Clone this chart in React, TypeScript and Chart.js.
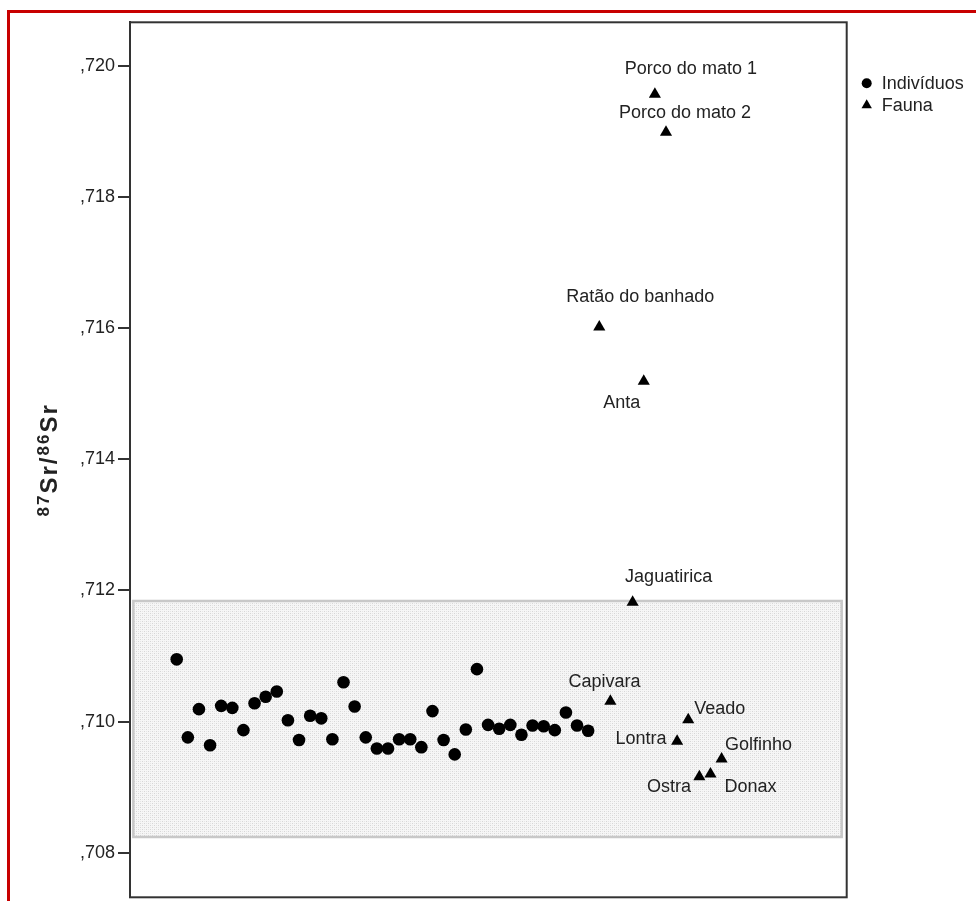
import React, { useEffect, useRef } from 'react';
import { Chart, registerables } from 'chart.js';

Chart.register(...registerables);

// ---- Data ----
const INDIVIDUOS_X = [
  1, 2, 3, 4, 5, 6, 7, 8, 9, 10, 11, 12, 13, 14, 15, 16, 17, 18, 19,
  20, 21, 22, 23, 24, 25, 26, 27, 28, 29, 30, 31, 32, 33, 34, 35, 36, 37, 38,
];
const INDIVIDUOS_Y = [
  0.71095, 0.70976, 0.71019, 0.70964, 0.71024, 0.71021, 0.70987, 0.71028, 0.71038, 0.71046,
  0.71002, 0.70972, 0.71009, 0.71005, 0.70973, 0.7106, 0.71023, 0.70976, 0.70959, 0.70959,
  0.70973, 0.70973, 0.70961, 0.71016, 0.70972, 0.7095, 0.70988, 0.7108, 0.70995, 0.70989,
  0.70995, 0.7098, 0.70994, 0.70993, 0.70987, 0.71014, 0.70994, 0.70986,
];
const FAUNA_NAMES = [
  'Ratão do banhado', 'Capivara', 'Jaguatirica', 'Anta', 'Porco do mato 1', 'Porco do mato 2',
  'Lontra', 'Veado', 'Ostra', 'Donax', 'Golfinho',
];
const FAUNA_X = [39, 40, 42, 43, 44, 45, 46, 47, 48, 49, 50];
const FAUNA_Y = [
  0.71602, 0.71031, 0.71182, 0.71519, 0.71957, 0.71899, 0.7097, 0.71003, 0.70916, 0.7092, 0.70943,
];
const SERIES_LABELS = ['Indivíduos', 'Fauna'];
const Y_TICKS = [0.708, 0.71, 0.712, 0.714, 0.716, 0.718, 0.72];
const Y_RANGE = [0.70732, 0.720667];
const X_RANGE = [-3.2, 61.25];
const BOX_X = [-2.9, 60.8];
const BOX_Y = [0.70824, 0.71184];
const Y_TITLE_PARTS = [
  { text: '87', sup: true },
  { text: 'Sr/', sup: false },
  { text: '86', sup: true },
  { text: 'Sr', sup: false },
];

// ---- Styles (label placement relative to each point) ----
const LABEL_STYLE: Record<string, { align: CanvasTextAlign; dx: number; dy: number }> = {
  'Ratão do banhado': { align: 'center', dx: 41, dy: -30 },
  Capivara: { align: 'center', dx: -6, dy: -19 },
  Jaguatirica: { align: 'center', dx: 36, dy: -25 },
  Anta: { align: 'center', dx: -22, dy: 22 },
  'Porco do mato 1': { align: 'center', dx: 36, dy: -25 },
  'Porco do mato 2': { align: 'center', dx: 19, dy: -19 },
  Lontra: { align: 'right', dx: -10.5, dy: -2 },
  Veado: { align: 'left', dx: 6, dy: -10.5 },
  Ostra: { align: 'right', dx: -8.3, dy: 10 },
  Donax: { align: 'left', dx: 14, dy: 12.7 },
  Golfinho: { align: 'left', dx: 3.3, dy: -13.5 },
};

const FONT = "'Liberation Sans', Arial, sans-serif";
const TEXT_COLOR = '#222';

function makePattern(ctx: CanvasRenderingContext2D) {
  const c = document.createElement('canvas');
  c.width = 4;
  c.height = 4;
  const p = c.getContext('2d')!;
  p.fillStyle = '#f6f6f6';
  p.fillRect(0, 0, 4, 4);
  p.fillStyle = '#d6d6d6';
  p.fillRect(0, 0, 1, 1);
  p.fillRect(2, 2, 1, 1);
  p.fillStyle = '#e6e6e6';
  p.fillRect(2, 0, 1, 1);
  p.fillRect(0, 2, 1, 1);
  return ctx.createPattern(c, 'repeat')!;
}

const decorPlugin = {
  id: 'decor',
  beforeDatasetsDraw(chart: any) {
    const { ctx, scales } = chart;
    const x = scales.x;
    const y = scales.y;
    const l = x.getPixelForValue(BOX_X[0]);
    const r = x.getPixelForValue(BOX_X[1]);
    const t = y.getPixelForValue(BOX_Y[1]);
    const b = y.getPixelForValue(BOX_Y[0]);
    ctx.save();
    ctx.fillStyle = makePattern(ctx);
    ctx.fillRect(l, t, r - l, b - t);
    ctx.strokeStyle = '#c8c8c8';
    ctx.lineWidth = 2.5;
    ctx.strokeRect(l, t, r - l, b - t);
    ctx.restore();
  },
  afterDatasetsDraw(chart: any) {
    const { ctx, scales, chartArea } = chart;
    const x = scales.x;
    const y = scales.y;
    ctx.save();
    // point labels
    ctx.font = `18px ${FONT}`;
    ctx.fillStyle = TEXT_COLOR;
    ctx.textBaseline = 'middle';
    FAUNA_NAMES.forEach((name, i) => {
      const st = LABEL_STYLE[name];
      const px = x.getPixelForValue(FAUNA_X[i]);
      const py = y.getPixelForValue(FAUNA_Y[i]);
      ctx.textAlign = st.align;
      ctx.fillText(name, px + st.dx, py + st.dy);
    });
    // frame
    ctx.strokeStyle = '#333';
    ctx.lineWidth = 2;
    ctx.strokeRect(chartArea.left, chartArea.top, chartArea.right - chartArea.left, chartArea.bottom - chartArea.top);
    // legend
    const lx = chartArea.right + 20;
    const ly = chartArea.top + 61;
    chart.data.datasets.forEach((ds: any, i: number) => {
      const cy = ly + i * 22;
      ctx.fillStyle = '#000';
      ctx.beginPath();
      if (ds.pointStyle === 'triangle') {
        const rr = 6;
        ctx.moveTo(lx, cy - rr);
        ctx.lineTo(lx + rr * 0.866, cy + rr / 2);
        ctx.lineTo(lx - rr * 0.866, cy + rr / 2);
        ctx.closePath();
      } else {
        ctx.arc(lx, cy, 5, 0, Math.PI * 2);
      }
      ctx.fill();
      ctx.fillStyle = TEXT_COLOR;
      ctx.textAlign = 'left';
      ctx.textBaseline = 'middle';
      ctx.font = `18px ${FONT}`;
      ctx.fillText(ds.label, lx + 15, cy + 1);
    });
    ctx.restore();

    // y title
    ctx.save();
    const mainFont = `bold 24px ${FONT}`;
    const supFont = `bold 17px ${FONT}`;
    (ctx as any).letterSpacing = '2px';
    let total = 0;
    const widths = Y_TITLE_PARTS.map((p) => {
      ctx.font = p.sup ? supFont : mainFont;
      const w = ctx.measureText(p.text).width;
      total += w;
      return w;
    });
    ctx.translate(38.7, (chartArea.top + chartArea.bottom) / 2);
    ctx.rotate(-Math.PI / 2);
    ctx.textAlign = 'left';
    ctx.textBaseline = 'alphabetic';
    ctx.fillStyle = TEXT_COLOR;
    let cx = -total / 2;
    Y_TITLE_PARTS.forEach((p, i) => {
      ctx.font = p.sup ? supFont : mainFont;
      ctx.fillText(p.text, cx, p.sup ? 0 : 8);
      cx += widths[i];
    });
    ctx.restore();
  },
};

export default function App() {
  const ref = useRef<HTMLCanvasElement | null>(null);
  useEffect(() => {
    if (!ref.current) return;
    const chart = new Chart(ref.current, {
      type: 'scatter',
      data: {
        datasets: [
          {
            label: SERIES_LABELS[0],
            data: INDIVIDUOS_X.map((v, i) => ({ x: v, y: INDIVIDUOS_Y[i] })),
            pointStyle: 'circle',
            pointRadius: 6.3,
            backgroundColor: '#000',
            borderColor: '#000',
            borderWidth: 0,
          },
          {
            label: SERIES_LABELS[1],
            data: FAUNA_X.map((v, i) => ({ x: v, y: FAUNA_Y[i] })),
            pointStyle: 'triangle',
            pointRadius: 7,
            backgroundColor: '#000',
            borderColor: '#000',
            borderWidth: 0,
          },
        ],
      },
      options: {
        responsive: false,
        animation: false,
        devicePixelRatio: 1,
        layout: { autoPadding: false, padding: { left: 0, top: 9.3, right: 129.3, bottom: 3.7 } },
        plugins: { legend: { display: false }, tooltip: { enabled: false } },
        scales: {
          x: { type: 'linear', display: false, min: X_RANGE[0], max: X_RANGE[1] },
          y: {
            type: 'linear',
            position: 'left',
            min: Y_RANGE[0],
            max: Y_RANGE[1],
            afterFit: (s: any) => {
              s.width = 120;
              s.paddingTop = 0;
              s.paddingBottom = 0;
            },
            afterBuildTicks: (s: any) => {
              s.ticks = Y_TICKS.map((v) => ({ value: v }));
            },
            ticks: {
              font: { size: 18, family: FONT },
              color: TEXT_COLOR,
              padding: 3,
              callback: (v: any) => ',' + Number(v).toFixed(3).split('.')[1],
            },
            grid: { display: true, drawOnChartArea: false, drawTicks: true, tickLength: 12, color: '#333', lineWidth: 2 },
            border: { display: true, color: '#333', width: 2 },
          },
        },
      },
      plugins: [decorPlugin],
    });
    return () => chart.destroy();
  }, []);

  return (
    <div
      style={{
        position: 'fixed',
        left: 7,
        top: 10,
        width: 966,
        height: 888,
        borderTop: '3px solid #c80000',
        borderLeft: '3px solid #c80000',
        background: '#fff',
      }}
    >
      <canvas ref={ref} width={966} height={888} style={{ display: 'block', width: 966, height: 888 }} />
    </div>
  );
}
